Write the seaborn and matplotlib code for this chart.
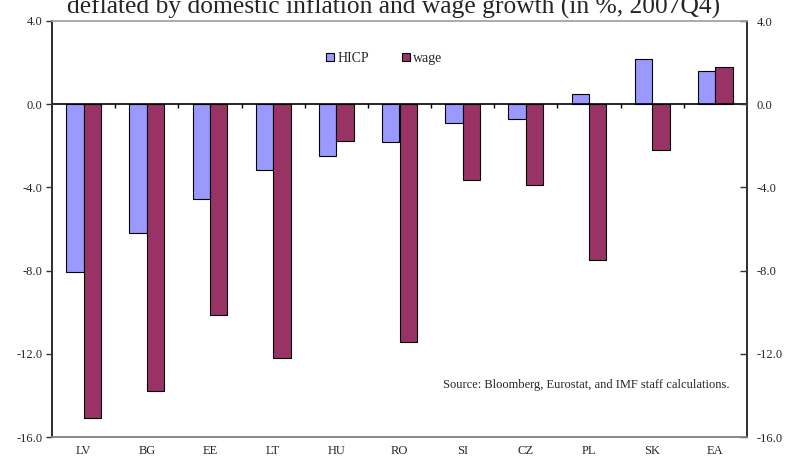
import numpy as np
import pandas as pd
import matplotlib
matplotlib.use("Agg")
import matplotlib.pyplot as plt
import seaborn as sns

categories = ["LV", "BG", "EE", "LT", "HU", "RO", "SI", "CZ", "PL", "SK", "EA"]
hicp = [-8.05, -6.2, -4.55, -3.15, -2.5, -1.8, -0.9, -0.7, 0.5, 2.15, 1.6]
wage = [-15.1, -13.8, -10.15, -12.2, -1.75, -11.45, -3.65, -3.9, -7.5, -2.2, 1.8]
series = ["HICP", "wage"]
colors = ["#9999FF", "#993366"]
yticks = [4.0, 0.0, -4.0, -8.0, -12.0, -16.0]
title = "deflated by domestic inflation and wage growth (in %, 2007Q4)"
source = "Source: Bloomberg, Eurostat, and IMF staff calculations."

df = pd.DataFrame({
    "country": categories * 2,
    "series": [series[0]] * len(categories) + [series[1]] * len(categories),
    "value": hicp + wage,
})

sns.set_theme(style="white")
plt.rcParams["font.family"] = ["Liberation Serif", "DejaVu Serif"]

fig = plt.figure(figsize=(7.88, 4.65), dpi=100)
ax = fig.add_axes([52 / 788, 1 - 437 / 465, 695 / 788, 416 / 465])

sns.barplot(data=df, x="country", y="value", hue="series", order=categories,
            hue_order=series, palette=colors, width=0.55, gap=0,
            edgecolor="black", linewidth=0.8, saturation=1, ax=ax, legend=True)

ax.set_ylim(-16, 4)
ax.set_xlim(-0.5, len(categories) - 0.5)
ax.set_yticks(yticks)
ax.set_yticklabels([f"{t:.1f}" for t in yticks], fontsize=9)
ax.set_xlabel("")
ax.set_ylabel("")
ax.tick_params(axis="x", length=0, pad=6, labelsize=9)
ax.tick_params(axis="y", direction="out", length=4, width=1, color="#333333",
               left=True, pad=3)

ax2 = ax.twinx()
ax2.set_ylim(ax.get_ylim())
ax2.set_yticks(yticks)
ax2.set_yticklabels([f"{t:.1f}" for t in yticks], fontsize=9)
ax2.tick_params(axis="y", direction="in", length=5, width=1, color="#333333",
                right=True, pad=7)
for a in (ax, ax2):
    a.spines["top"].set_color("#aaaaaa")
    a.spines["bottom"].set_color("#888888")
    a.spines["left"].set_color("#333333")
    a.spines["right"].set_color("#333333")
    a.spines["left"].set_linewidth(1.4)
    a.spines["right"].set_linewidth(1.4)
    a.spines["top"].set_linewidth(1.2)
    a.spines["bottom"].set_linewidth(1.2)

ax.axhline(0, color="black", linewidth=1.2, zorder=5)
bounds = np.arange(len(categories) - 1) + 0.5
ax.vlines(bounds, -0.18, 0, color="black", linewidth=1, zorder=5)

leg = ax.legend(loc="center", bbox_to_anchor=(0.478, 0.91), ncol=2,
                frameon=False, fontsize=10, handlelength=0.6, handleheight=0.6,
                handletextpad=0.2, columnspacing=2.4)

ax.text(0.975, 0.125, source, transform=ax.transAxes, ha="right", va="center",
        fontsize=9)

fig.text(0.499, 1 - 14 / 465, title, ha="center", va="baseline", fontsize=18.4)

fig.savefig("out.png", dpi=100)
